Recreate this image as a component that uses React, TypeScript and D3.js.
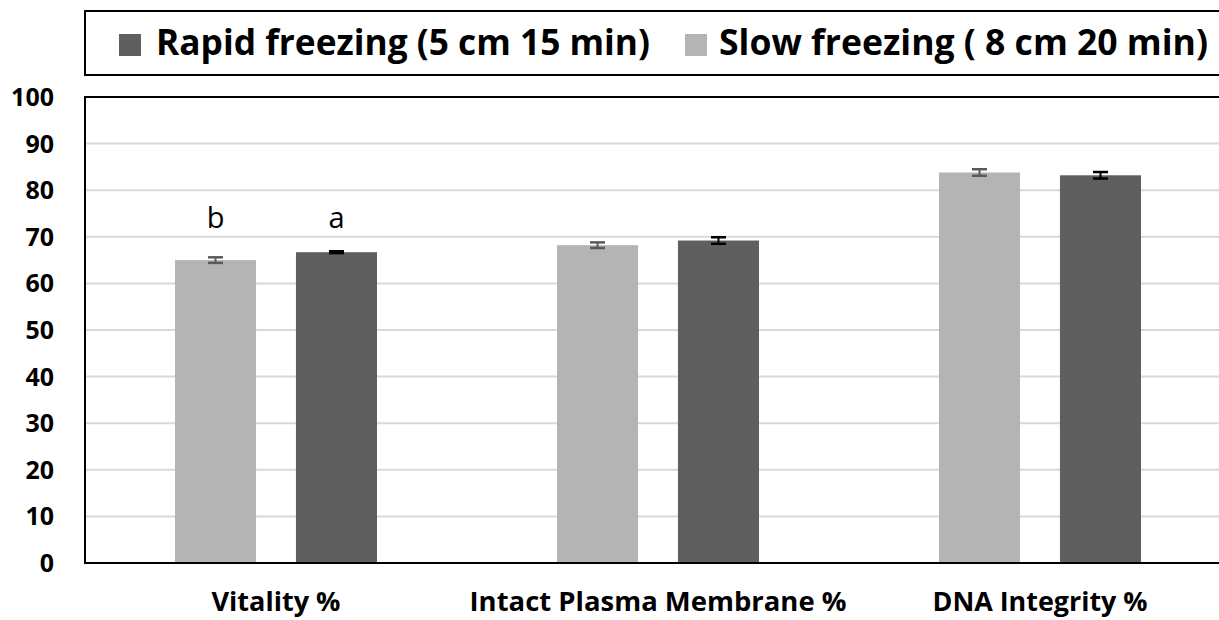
import React from "react";
import * as d3 from "d3";

const categories = ["Vitality %", "Intact Plasma Membrane %", "DNA Integrity %"];
const seriesKeys = ["slow", "rapid"];
const seriesNames = ["Slow freezing ( 8 cm 20 min)", "Rapid freezing (5 cm 15 min)"];
const slowValues = [65.0, 68.2, 83.8];
const slowErrors = [0.6, 0.6, 0.7];
const rapidValues = [66.7, 69.2, 83.2];
const rapidErrors = [0.2, 0.7, 0.7];
const letterLabels = [["b", "a"], ["", ""], ["", ""]];
const yTicks = [0, 10, 20, 30, 40, 50, 60, 70, 80, 90, 100];
const legendOrder = ["rapid", "slow"];

const W = 1219;
const H = 620;
const FONT = "'Open Sans', 'Noto Sans', sans-serif";

export default function App() {
  const left = 85;
  const right = 1231;
  const top = 97;
  const bottom = 563;

  const y = d3.scaleLinear().domain([0, 100]).range([bottom, top]);
  const x = d3.scaleBand().domain(categories).range([left, right]).padding(0);
  const xs = d3
    .scaleBand()
    .domain(seriesKeys)
    .range([0, x.bandwidth()])
    .paddingInner(0.33)
    .paddingOuter(0.744);

  const colors: Record<string, string> = { slow: "#b4b4b4", rapid: "#5f5f5f" };
  const errColors: Record<string, string> = { slow: "#5a5a5a", rapid: "#000000" };
  const values: Record<string, number[]> = { slow: slowValues, rapid: rapidValues };
  const errors: Record<string, number[]> = { slow: slowErrors, rapid: rapidErrors };
  const names: Record<string, string> = { slow: seriesNames[0], rapid: seriesNames[1] };

  const legendItems = [
    { key: legendOrder[0], sx: 119, tx: 156, len: 494 },
    { key: legendOrder[1], sx: 685, tx: 719, len: 489 },
  ];

  const xLabelLens = [129, 377, 215];

  return (
    <svg
      width={W}
      height={H}
      style={{ position: "absolute", left: 0, top: 0, background: "#fff" }}
    >
      <rect x={0} y={0} width={W} height={H} fill="#fff" />
      {/* legend box */}
      <rect x={85} y={11} width={1150} height={64} fill="#fff" stroke="#000" strokeWidth={2} />
      {legendItems.map((it) => (
        <g key={it.key}>
          <rect x={it.sx} y={34} width={22} height={22} fill={colors[it.key]} />
          <text
            x={it.tx}
            y={55}
            fontFamily={FONT}
            fontWeight={700}
            fontSize={36}
            fill="#000"
            textLength={it.len}
            lengthAdjust="spacingAndGlyphs"
          >
            {names[it.key]}
          </text>
        </g>
      ))}

      {/* gridlines */}
      {yTicks
        .filter((t) => t > 0 && t < 100)
        .map((t) => (
          <line
            key={t}
            x1={left}
            x2={right}
            y1={y(t)}
            y2={y(t)}
            stroke="#d9d9d9"
            strokeWidth={2}
          />
        ))}

      {/* bars */}
      {categories.map((c, i) => (
        <g key={c}>
          {seriesKeys.map((k) => {
            const v = values[k][i];
            const e = errors[k][i];
            const bx = (x(c) as number) + (xs(k) as number);
            const bw = xs.bandwidth();
            const cx = bx + bw / 2;
            return (
              <g key={k}>
                <rect x={bx} y={y(v)} width={bw} height={y(0) - y(v)} fill={colors[k]} />
                <line x1={cx} x2={cx} y1={y(v + e)} y2={y(v - e)} stroke={errColors[k]} strokeWidth={2} />
                <line x1={cx - 7.5} x2={cx + 7.5} y1={y(v + e)} y2={y(v + e)} stroke={errColors[k]} strokeWidth={2.5} />
                <line x1={cx - 7.5} x2={cx + 7.5} y1={y(v - e)} y2={y(v - e)} stroke={errColors[k]} strokeWidth={2.5} />
              </g>
            );
          })}
          {seriesKeys.map((k, j) =>
            letterLabels[i][j] ? (
              <text
                key={"l" + k}
                x={(x(c) as number) + (xs(k) as number) + xs.bandwidth() / 2}
                y={y(71.9)}
                textAnchor="middle"
                fontFamily={FONT}
                fontSize={29}
                fill="#000"
              >
                {letterLabels[i][j]}
              </text>
            ) : null
          )}
          <text
            x={(x(c) as number) + x.bandwidth() / 2}
            y={611}
            textAnchor="middle"
            fontFamily={FONT}
            fontWeight={700}
            fontSize={27}
            fill="#000"
            textLength={xLabelLens[i]}
            lengthAdjust="spacingAndGlyphs"
          >
            {c}
          </text>
        </g>
      ))}

      {/* plot frame */}
      <rect
        x={left}
        y={top}
        width={right - left}
        height={bottom - top}
        fill="none"
        stroke="#000"
        strokeWidth={2}
      />

      {/* y tick labels */}
      {yTicks.map((t) => (
        <text
          key={t}
          x={54}
          y={y(t)}
          dy="0.36em"
          textAnchor="end"
          fontFamily={FONT}
          fontWeight={700}
          fontSize={25}
          fill="#000"
        >
          {t}
        </text>
      ))}
    </svg>
  );
}
